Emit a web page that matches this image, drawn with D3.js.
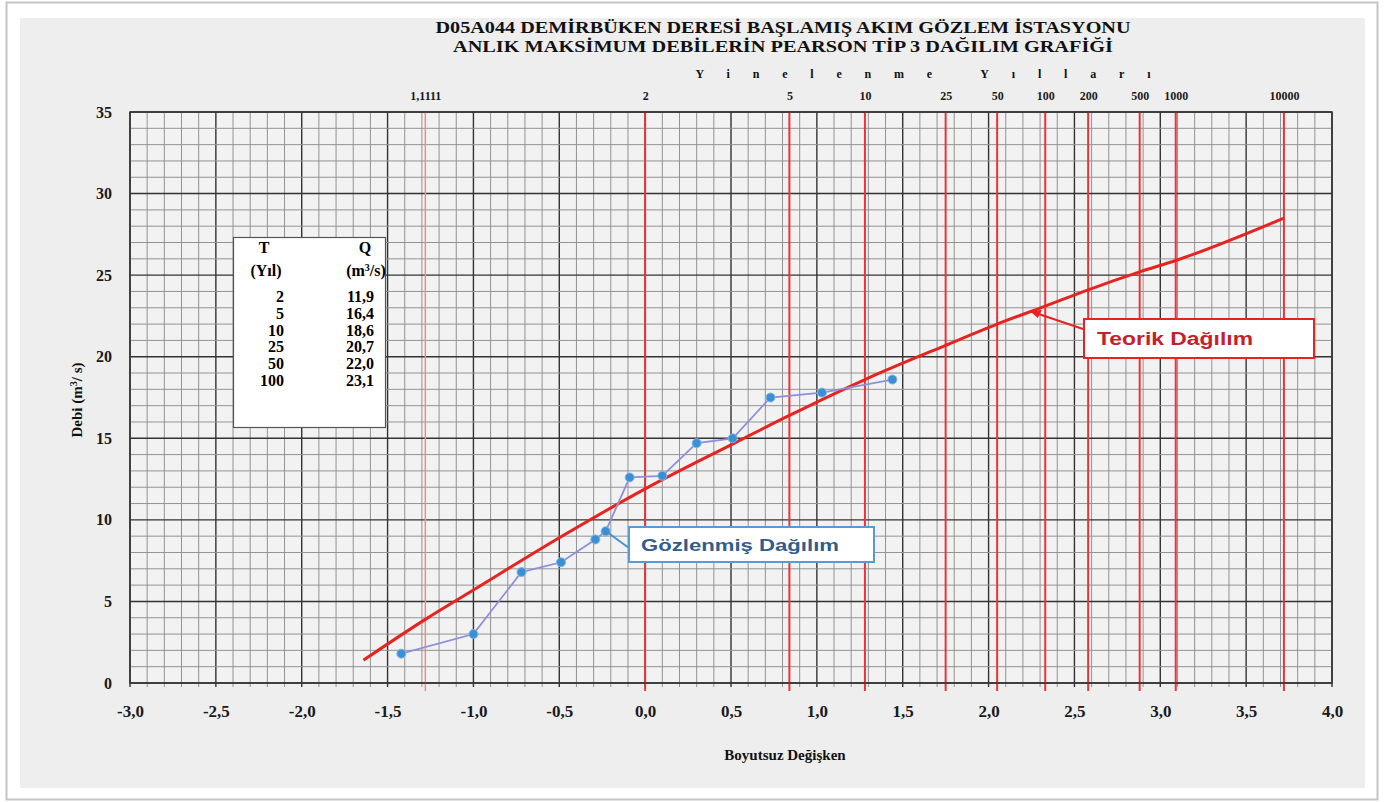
<!DOCTYPE html>
<html>
<head>
<meta charset="utf-8">
<script src="https://cdn.jsdelivr.net/npm/d3@7"></script>
<style>
  body { margin: 0; background: #fff; }
  text { font-family: "Liberation Serif", "DejaVu Serif", serif; font-weight: bold; }
</style>
</head>
<body>
<script>
// Width and Height
var w = 1386;
var h = 802;

// title lines
var titleLines = ["D05A044 DEMİRBÜKEN DERESİ BAŞLAMIŞ AKIM GÖZLEM İSTASYONU",
                  "ANLIK MAKSİMUM DEBİLERİN PEARSON TİP 3 DAĞILIM GRAFİĞİ"];

// return periods on the top axis and where they sit on the z axis
var periodLabels = ["1,1111", "2", "5", "10", "25", "50", "100", "200", "500", "1000", "10000"];
var periodZ = [-1.28, 0, 0.84, 1.28, 1.75, 2.05, 2.33, 2.58, 2.88, 3.09, 3.72];

// observed distribution (z, Q)
var obsZ = [-1.42, -1.00, -0.72, -0.49, -0.29, -0.23, -0.09, 0.10, 0.30, 0.51, 0.73, 1.03, 1.44];
var obsQ = [1.8, 3.0, 6.8, 7.4, 8.8, 9.3, 12.6, 12.7, 14.7, 15.0, 17.5, 17.8, 18.6];

// theoretical Pearson III curve (z, Q)
var theoZ = [-1.64, -1.28, -1.0, -0.5, 0, 0.5, 0.84, 1.28, 1.75, 2.05, 2.33, 2.58, 2.88, 3.09, 3.72];
var theoQ = [1.4, 3.9, 5.7, 8.9, 11.9, 14.6, 16.4, 18.6, 20.7, 22.0, 23.1, 24.1, 25.2, 25.9, 28.5];

// table values
var tableT = ["2", "5", "10", "25", "50", "100"];
var tableQ = ["11,9", "16,4", "18,6", "20,7", "22,0", "23,1"];

var comma = function(d) { return d3.format(".1f")(d).replace(".", ",").replace("−", "-"); };

var svg = d3.select("body")
            .append("svg")
            .attr("width", w)
            .attr("height", h);

// frame
svg.append("rect").attr("x", 6.5).attr("y", 2.5).attr("width", 1371).attr("height", 797)
    .attr("fill", "#fff").attr("stroke", "#c4c4c4").attr("stroke-width", 2);
svg.append("rect").attr("x", 20).attr("y", 18).attr("width", 1345).attr("height", 770)
    .attr("fill", "#eeeeee");

var x = d3.scaleLinear().domain([-3, 4]).range([130, 1332]);
var y = d3.scaleLinear().domain([0, 35]).range([683, 112]);

// plot background
svg.append("rect")
    .attr("x", x(-3)).attr("y", y(35))
    .attr("width", x(4) - x(-3)).attr("height", y(0) - y(35))
    .attr("fill", "#f2f2f2");

// minor grid
var xMinor = x.ticks(70);
var yMinor = y.ticks(35);
var isHalf = function(d) { return Math.abs(d * 2 - Math.round(d * 2)) < 1e-6; };

svg.append("g").selectAll("line")
    .data(xMinor)
    .enter()
    .append("line")
    .attr("x1", function(d) { return x(d); })
    .attr("x2", function(d) { return x(d); })
    .attr("y1", y(35))
    .attr("y2", y(0) + 4)
    .attr("stroke", function(d) { return isHalf(d) ? "#333" : "#939393"; })
    .attr("stroke-width", function(d) { return isHalf(d) ? 1.4 : 1; });

svg.append("g").selectAll("line")
    .data(yMinor)
    .enter()
    .append("line")
    .attr("x1", x(-3))
    .attr("x2", x(4))
    .attr("y1", function(d) { return y(d); })
    .attr("y2", function(d) { return y(d); })
    .attr("stroke", function(d) { return d % 5 === 0 ? "#333" : "#939393"; })
    .attr("stroke-width", function(d) { return d % 5 === 0 ? 1.4 : 1; });

// red return period lines
svg.append("g").selectAll("line")
    .data(periodZ)
    .enter()
    .append("line")
    .attr("x1", function(d) { return x(d); })
    .attr("x2", function(d) { return x(d); })
    .attr("y1", y(35))
    .attr("y2", y(0) + 8)
    .attr("stroke", function(d, i) { return i === 0 ? "#f08a8a" : "#e8343a"; })
    .attr("stroke-width", function(d, i) { return i === 0 ? 1.5 : 2; });

// plot border
svg.append("rect")
    .attr("x", x(-3)).attr("y", y(35))
    .attr("width", x(4) - x(-3)).attr("height", y(0) - y(35))
    .attr("fill", "none")
    .attr("stroke", "#333")
    .attr("stroke-width", 1.5);

// axes
var xAxis = d3.axisBottom(x)
    .tickValues(d3.range(-6, 9).map(function(d) { return d / 2; }))
    .tickSize(0)
    .tickPadding(22)
    .tickFormat(comma);

svg.append("g")
    .attr("transform", "translate(0," + y(0) + ")")
    .call(xAxis)
    .call(function(g) { g.select(".domain").remove(); })
    .selectAll("text")
    .attr("font-size", "17px")
    .attr("fill", "#1a1a1a");

var yAxis = d3.axisLeft(y)
    .tickValues(d3.range(0, 36, 5))
    .tickSize(0)
    .tickPadding(18)
    .tickFormat(d3.format("d"));

svg.append("g")
    .attr("transform", "translate(" + x(-3) + ",0)")
    .call(yAxis)
    .call(function(g) { g.select(".domain").remove(); })
    .selectAll("text")
    .attr("font-size", "16px")
    .attr("fill", "#1a1a1a");

var topAxis = d3.axisTop(x)
    .tickValues(periodZ)
    .tickSize(0)
    .tickPadding(12)
    .tickFormat(function(d, i) { return periodLabels[i]; });

svg.append("g")
    .attr("transform", "translate(0," + y(35) + ")")
    .call(topAxis)
    .call(function(g) { g.select(".domain").remove(); })
    .selectAll("text")
    .attr("font-size", "12px")
    .attr("fill", "#1a1a1a");

// titles
svg.selectAll(".title")
    .data(titleLines)
    .enter()
    .append("text")
    .attr("class", "title")
    .attr("x", 783)
    .attr("y", function(d, i) { return 33 + i * 19; })
    .attr("text-anchor", "middle")
    .attr("font-size", "16px")
    .attr("textLength", function(d, i) { return i === 0 ? 695 : 660; })
    .attr("lengthAdjust", "spacingAndGlyphs")
    .attr("fill", "#111")
    .text(function(d) { return d; });

svg.append("text")
    .attr("x", 923)
    .attr("y", 78)
    .attr("text-anchor", "middle")
    .attr("font-size", "12px")
    .attr("textLength", 455)
    .attr("lengthAdjust", "spacing")
    .attr("fill", "#111")
    .text("Yinelenme Yılları");

svg.append("text")
    .attr("x", 785)
    .attr("y", 760)
    .attr("text-anchor", "middle")
    .attr("font-size", "15px")
    .attr("fill", "#111")
    .text("Boyutsuz Değişken");

svg.append("text")
    .attr("transform", "translate(82,400) rotate(-90)")
    .attr("text-anchor", "middle")
    .attr("font-size", "15px")
    .attr("fill", "#111")
    .html("Debi (m<tspan dy='-5' font-size='10px'>3</tspan><tspan dy='5'>/ s)</tspan>");

// theoretical curve
var theo = theoZ.map(function(d, i) { return [d, theoQ[i]]; });
var obs = obsZ.map(function(d, i) { return [d, obsQ[i]]; });

var line = d3.line()
    .x(function(d) { return x(d[0]); })
    .y(function(d) { return y(d[1]); });

svg.append("path")
    .datum(theo)
    .attr("d", line.curve(d3.curveMonotoneX))
    .attr("fill", "none")
    .attr("stroke", "#e8231f")
    .attr("stroke-width", 3);

svg.append("path")
    .datum(obs)
    .attr("d", d3.line()
        .x(function(d) { return x(d[0]); })
        .y(function(d) { return y(d[1]); }))
    .attr("fill", "none")
    .attr("stroke", "#8d90d6")
    .attr("stroke-width", 1.8);

svg.append("g").selectAll("circle")
    .data(obs)
    .enter()
    .append("circle")
    .attr("cx", function(d) { return x(d[0]); })
    .attr("cy", function(d) { return y(d[1]); })
    .attr("r", 4.5)
    .attr("fill", "#3b8fd4")
    .attr("stroke", "#7fb6e6")
    .attr("stroke-width", 1);

// table
var tbl = svg.append("g");
tbl.append("rect")
    .attr("x", 233.5).attr("y", 237.5).attr("width", 152).attr("height", 190)
    .attr("fill", "#fff").attr("stroke", "#555").attr("stroke-width", 1.2);
tbl.append("text").attr("x", 264).attr("y", 253).attr("text-anchor", "middle")
    .attr("font-size", "16px").text("T");
tbl.append("text").attr("x", 365).attr("y", 253).attr("text-anchor", "middle")
    .attr("font-size", "16px").text("Q");
tbl.append("text").attr("x", 266).attr("y", 276).attr("text-anchor", "middle")
    .attr("font-size", "16px").text("(Yıl)");
tbl.append("text").attr("x", 366).attr("y", 276).attr("text-anchor", "middle")
    .attr("font-size", "16px")
    .html("(m<tspan dy='-5' font-size='10px'>3</tspan><tspan dy='5'>/s)</tspan>");
tbl.selectAll(".tt")
    .data(tableT)
    .enter()
    .append("text")
    .attr("x", 284)
    .attr("y", function(d, i) { return 302 + i * 16.8; })
    .attr("text-anchor", "end")
    .attr("font-size", "16px")
    .text(function(d) { return d; });
tbl.selectAll(".tq")
    .data(tableQ)
    .enter()
    .append("text")
    .attr("x", 374)
    .attr("y", function(d, i) { return 302 + i * 16.8; })
    .attr("text-anchor", "end")
    .attr("font-size", "16px")
    .text(function(d) { return d; });

// legend callouts
var sans = "'Liberation Sans', Arial, sans-serif";

var teoTip = [x(2.24), y(22.8)];
svg.append("line")
    .attr("x1", 1083).attr("y1", 329).attr("x2", teoTip[0]).attr("y2", teoTip[1])
    .attr("stroke", "#e8231f").attr("stroke-width", 2);
svg.append("path")
    .attr("d", "M" + teoTip[0] + "," + teoTip[1] + " l12,-1 l-4,8 z")
    .attr("fill", "#e8231f");
svg.append("rect")
    .attr("x", 1084).attr("y", 319).attr("width", 230).attr("height", 39)
    .attr("fill", "#fff").attr("stroke", "#e8231f").attr("stroke-width", 2);
svg.append("text")
    .attr("x", 1097).attr("y", 345)
    .style("font-family", sans)
    .attr("font-size", "18px")
    .attr("textLength", 156)
    .attr("lengthAdjust", "spacingAndGlyphs")
    .attr("fill", "#c8202a")
    .text("Teorik Dağılım");

var gozTip = [x(obsZ[5]), y(obsQ[5])];
svg.append("line")
    .attr("x1", 629).attr("y1", 548).attr("x2", gozTip[0] + 3).attr("y2", gozTip[1] + 2)
    .attr("stroke", "#4a8fd0").attr("stroke-width", 2);
svg.append("rect")
    .attr("x", 629).attr("y", 527).attr("width", 245).attr("height", 35)
    .attr("fill", "#fff").attr("stroke", "#5a9ad4").attr("stroke-width", 2);
svg.append("text")
    .attr("x", 641).attr("y", 551)
    .style("font-family", sans)
    .attr("font-size", "17px")
    .attr("textLength", 198)
    .attr("lengthAdjust", "spacingAndGlyphs")
    .attr("fill", "#2f5d8c")
    .text("Gözlenmiş Dağılım");
</script>
</body>
</html>
